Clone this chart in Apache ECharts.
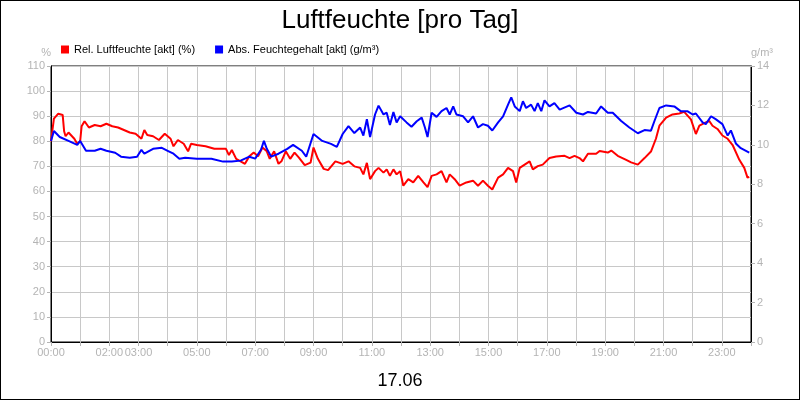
<!DOCTYPE html>
<html><head><meta charset="utf-8">
<script src="https://cdn.jsdelivr.net/npm/echarts@6/dist/echarts.min.js"></script>
<style>html,body{margin:0;padding:0;background:#fff}#c{width:798px;height:398px;border:1px solid #000}</style>
</head><body><div id="c"></div>
<script>
const tickHours=[0,2,3,5,7,9,11,13,15,17,19,21,23];
const relHours=[0,0.1,0.25,0.4,0.45,0.5,0.6,0.8,0.9,1.0,1.05,1.15,1.3,1.5,1.7,1.9,2.1,2.3,2.5,2.7,2.9,3.1,3.2,3.3,3.5,3.7,3.9,4.1,4.2,4.35,4.55,4.7,4.8,5.0,5.3,5.6,5.9,6.0,6.1,6.2,6.35,6.5,6.65,6.8,6.95,7.1,7.25,7.4,7.5,7.65,7.8,7.9,8.05,8.2,8.35,8.5,8.7,8.9,9.0,9.15,9.35,9.5,9.75,10.0,10.2,10.4,
10.6,10.71,10.83,10.94,11.11,11.23,11.4,11.51,11.62,11.74,11.85,11.97,12.08,12.25,12.42,12.59,12.77,12.91,13.05,13.22,13.39,13.56,13.67,13.84,14.01,14.24,14.47,14.64,14.81,14.98,15.13,15.33,15.5,15.67,15.84,15.95,16.07,16.24,16.41,16.52,16.69,16.86,17.09,17.32,
17.61,17.78,17.95,18.12,18.24,18.41,18.69,18.81,19.09,19.21,19.43,19.72,19.89,20.12,20.35,20.57,20.74,20.86,21.09,21.31,21.54,21.71,21.94,22.11,22.23,22.45,22.57,22.68,22.85,23.02,23.2,23.37,23.6,23.77,23.88,23.94];
const relValues=[80,89,91,90.5,84,82,83.5,81,79,80,86,88,85.5,86.5,86,87,86,85.5,84.5,83.5,83,81,84.5,82.5,82,80.5,83,81,78,80.5,79,76,79,78.5,78,77,77,77,74.5,76.5,73,72,71,74,75.5,74,77.5,76,73,76,71,72,76,73,75.5,73.5,70.5,71.5,77.5,73,69,68.5,72,71,72,70,
69.4,66.8,71.4,64.9,68.1,69.4,67.5,68.8,66.2,68.8,66.8,68.1,62.3,64.9,63.6,66.2,63.6,61.7,66.2,66.8,68.1,63.6,66.8,64.9,62.3,63.6,64.3,62.3,64.3,62.3,60.8,65.5,66.8,69.4,68.1,63.6,69.4,70.7,72,68.8,70.1,70.7,73.3,73.9,
74.2,73.3,74.2,73.3,72,75,75,76.1,75.5,76.3,74.2,72.6,71.6,70.7,73.3,75.9,81,86.2,89.4,90.7,91.1,91.7,88.7,82.9,86.2,87.5,88.1,86.2,84.9,82.3,81,78.5,72.6,69.4,65.5,65.8];
const absHours=[0,0.1,0.3,0.6,0.9,1.0,1.2,1.5,1.7,1.9,2.2,2.4,2.7,2.95,3.1,3.2,3.5,3.8,4.0,4.2,4.4,4.6,5.0,5.5,5.9,6.2,6.5,6.8,7.0,7.2,7.3,7.4,7.55,7.8,8.1,8.3,8.6,8.75,9.0,9.3,9.6,9.8,10.0,10.2,10.4,
10.6,10.71,10.83,10.94,11.11,11.23,11.4,11.51,11.62,11.74,11.85,11.97,12.19,12.36,12.54,12.71,12.82,12.91,13.05,13.22,13.39,13.56,13.67,13.79,13.9,14.13,14.3,14.47,14.64,14.81,14.98,15.13,15.33,15.5,15.67,15.78,15.9,16.07,16.18,16.29,16.46,16.58,16.69,16.81,16.92,17.09,17.26,
17.44,17.78,18.01,18.24,18.41,18.69,18.86,19.09,19.26,19.55,19.83,20.12,20.35,20.57,20.69,20.86,21.09,21.37,21.6,21.83,22.0,22.11,22.34,22.45,22.63,22.8,23.02,23.2,23.31,23.48,23.65,23.94];
const absValues=[10.2,10.7,10.4,10.2,10.0,10.2,9.7,9.7,9.8,9.7,9.6,9.4,9.35,9.4,9.75,9.55,9.8,9.85,9.7,9.55,9.3,9.35,9.3,9.3,9.15,9.15,9.2,9.4,9.3,9.75,10.2,9.8,9.4,9.55,9.8,10.0,9.7,9.4,10.55,10.2,10.05,9.9,10.55,10.95,10.6,
10.88,10.47,11.3,10.4,11.54,11.99,11.54,11.63,11.01,11.66,11.14,11.45,11.14,10.92,11.2,11.38,10.88,10.4,11.63,11.42,11.71,11.87,11.54,11.95,11.54,11.45,11.14,11.45,10.88,11.05,10.97,10.73,11.14,11.45,12.04,12.41,11.95,11.71,12.21,11.87,12.04,11.71,12.12,11.71,12.26,11.95,12.12,
11.79,12.0,11.63,11.54,11.67,11.59,11.95,11.63,11.63,11.21,10.88,10.59,10.75,10.72,11.21,11.87,12.0,11.95,11.7,11.7,11.54,11.59,11.14,11.05,11.45,11.29,11.05,10.47,10.73,10.07,9.83,9.61];

const rel=relHours.map((h,i)=>[h,relValues[i]]);
const abs=absHours.map((h,i)=>[h,absValues[i]]);
const pad=n=>(n<10?'0':'')+n+':00';
const gray='#b4b4b4';
const chart=echarts.init(document.getElementById('c'));
chart.setOption({
  animation:false,
  textStyle:{fontFamily:'Liberation Sans, Arial, sans-serif'},
  title:[{text:'Luftfeuchte [pro Tag]',left:'center',top:2,textStyle:{fontSize:26,fontWeight:'normal',color:'#000'}},
         {text:'17.06',left:'center',top:366,textStyle:{fontSize:18,fontWeight:'normal',color:'#000'}}],
  legend:{left:55,top:38,itemWidth:8,itemHeight:8,itemGap:20,icon:'rect',textStyle:{fontSize:11,color:'#000'},
    data:['Rel. Luftfeuchte [akt] (%)','Abs. Feuchtegehalt [akt] (g/m³)']},
  grid:{left:50,right:48,top:65,bottom:57,show:true,borderColor:'#000',borderWidth:1},
  xAxis:{type:'value',min:0,max:24,interval:1,
    axisLine:{lineStyle:{color:'#000'}},axisTick:{show:true,length:4,lineStyle:{color:gray}},
    splitLine:{show:true,lineStyle:{color:'#c8c8c8'}},
    axisLabel:{color:gray,fontSize:11,margin:5,formatter:v=>tickHours.includes(v)?pad(v):''}},
  yAxis:[{type:'value',min:0,max:110,interval:10,name:'%',nameGap:8,nameTextStyle:{color:gray,fontSize:11,align:'right'},
    axisLine:{show:true,lineStyle:{color:'#000'}},axisTick:{show:true,length:4,lineStyle:{color:gray}},
    splitLine:{lineStyle:{color:'#c8c8c8'}},axisLabel:{color:gray,fontSize:11,margin:6}},
   {type:'value',min:0,max:14,interval:2,position:'right',name:'g/m³',nameGap:8,nameTextStyle:{color:gray,fontSize:11,align:'left'},
    axisLine:{show:true,lineStyle:{color:'#000'}},axisTick:{show:true,length:4,lineStyle:{color:gray}},
    splitLine:{show:false},axisLabel:{color:gray,fontSize:11,margin:6}}],
  series:[
    {name:'Rel. Luftfeuchte [akt] (%)',type:'line',yAxisIndex:0,data:rel,showSymbol:false,color:'#ff0000',lineStyle:{width:2}},
    {name:'Abs. Feuchtegehalt [akt] (g/m³)',type:'line',yAxisIndex:1,data:abs,showSymbol:false,color:'#0000ff',lineStyle:{width:2}}
  ]
});
</script></body></html>
